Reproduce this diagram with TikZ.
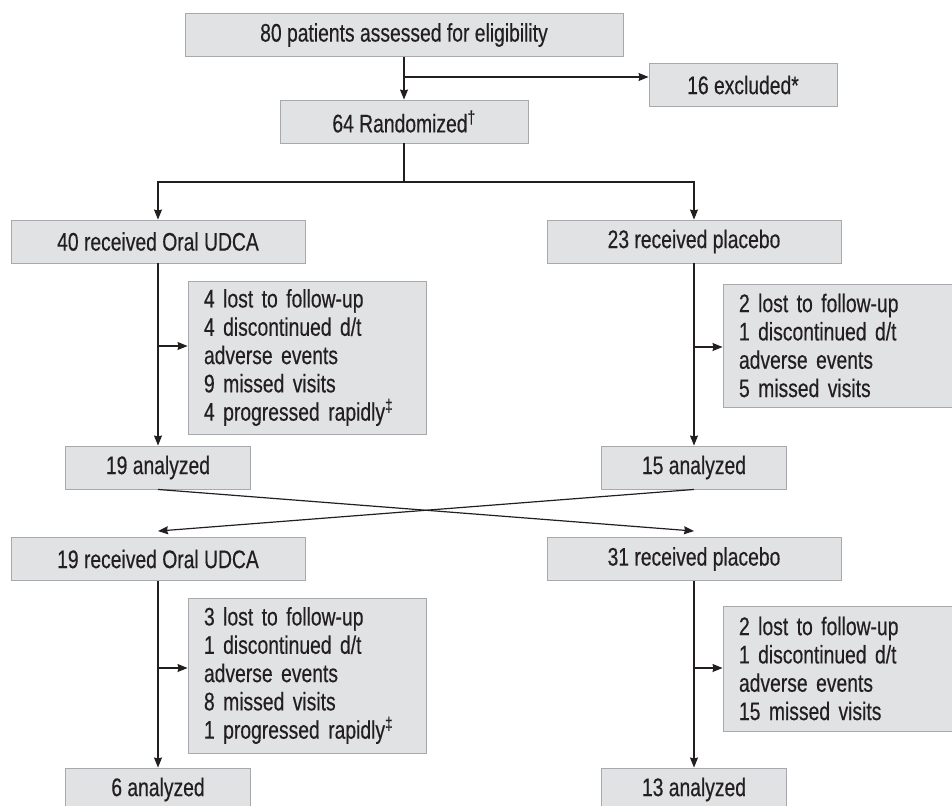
\documentclass[tikz,border=0pt]{standalone}
\usepackage{fontspec}
\setmainfont[FakeStretch=0.76,FakeBold=0.4]{Liberation Sans}
\usetikzlibrary{arrows.meta}
\definecolor{boxgray}{HTML}{E1E2E4}
\definecolor{edgegray}{HTML}{A7A9AC}
\definecolor{inkdark}{HTML}{231F20}

\begin{document}
\begin{tikzpicture}[x=1pt,y=-1pt,>={Stealth[length=10pt,width=8pt,inset=1pt]},node distance=536pt,
	every node/.style={fill=boxgray,draw=edgegray,line width=0.9pt,text=inkdark,inner sep=0pt,font=\fontsize{25.4}{28.3}\selectfont},
	box/.style={minimum height=43pt},
	lossbox/.style={text width=206pt,inner xsep=16pt,align=left},
	flow/.style={->,draw=inkdark,line width=1.2pt}]

\useasboundingbox (0,0) rectangle (952,805);
\clip (0,0) rectangle (952,805);

\node[box,minimum width=438pt]   (elig)      at (404,35)    {80 patients assessed for eligibility};
	\node[box,minimum width=188pt]   (excl)      at (743,85)    {16 excluded*};
	\node[box,minimum width=248pt]   (rand)      at (404,121.5) {64 Randomized\textsuperscript{\textdagger}};

	\node[box,minimum width=294pt]   (udcaA)     at (158,241.5) {40 received Oral UDCA};
	\node[box,minimum width=294pt]   (placA) [right of=udcaA]   {23 received placebo};
	\node[lossbox,minimum height=153pt] (lossA)  at (307,357.5) {4 lost to follow-up\\4 discontinued d/t\\adverse events\\9 missed visits\\4 progressed rapidly\textsuperscript{\textdaggerdbl}};
	\node[lossbox,minimum height=123pt] (lossB)  at (842,345.5) {2 lost to follow-up\\1 discontinued d/t\\adverse events\\5 missed visits};
	\node[box,minimum width=185pt]   (anA)       at (158,467.5) {19 analyzed};
	\node[box,minimum width=185pt]   (anB)   [right of=anA]     {15 analyzed};

	\node[box,minimum width=294pt]   (udcaB)     at (158,559)   {19 received Oral UDCA};
	\node[box,minimum width=294pt]   (placB) [right of=udcaB]   {31 received placebo};
	\node[lossbox,minimum height=155pt] (lossC)  at (307,675.5) {3 lost to follow-up\\1 discontinued d/t\\adverse events\\8 missed visits\\1 progressed rapidly\textsuperscript{\textdaggerdbl}};
	\node[lossbox,minimum height=125pt] (lossD)  at (842,668.5) {2 lost to follow-up\\1 discontinued d/t\\adverse events\\15 missed visits};
	\node[box,minimum width=185pt]   (anC)       at (158,789.5) {6 analyzed};
	\node[box,minimum width=185pt]   (anD)   [right of=anC]     {13 analyzed};

	\coordinate (split) at (404,77);
	\coordinate (fork)  at (404,182);
	\coordinate (tapA)  at (158,346);
	\coordinate (tapB)  at (694,347);
	\coordinate (tapC)  at (158,668);
	\coordinate (tapD)  at (694,668);

	\draw[flow] (elig.south) -- (rand.north);
	\draw[flow] (split) -- (split -| excl.west);
	\draw[flow,-] (rand.south) -- (fork);
	\draw[flow] (fork) -| (udcaA.north);
	\draw[flow] (fork) -| (placA.north);

	\draw[flow] (udcaA.south) -- (anA.north);
	\draw[flow] (placA.south) -- (anB.north);
	\draw[flow] (tapA) -- (tapA -| lossA.west);
	\draw[flow] (tapB) -- (tapB -| lossB.west);

	\draw[flow] (anA.south) -- ([yshift=6pt]placB.north);
	\draw[flow] (anB.south) -- ([yshift=6pt]udcaB.north);

	\draw[flow] (udcaB.south) -- (anC.north);
	\draw[flow] (placB.south) -- (anD.north);
	\draw[flow] (tapC) -- (tapC -| lossC.west);
	\draw[flow] (tapD) -- (tapD -| lossD.west);

\end{tikzpicture}
\end{document}
